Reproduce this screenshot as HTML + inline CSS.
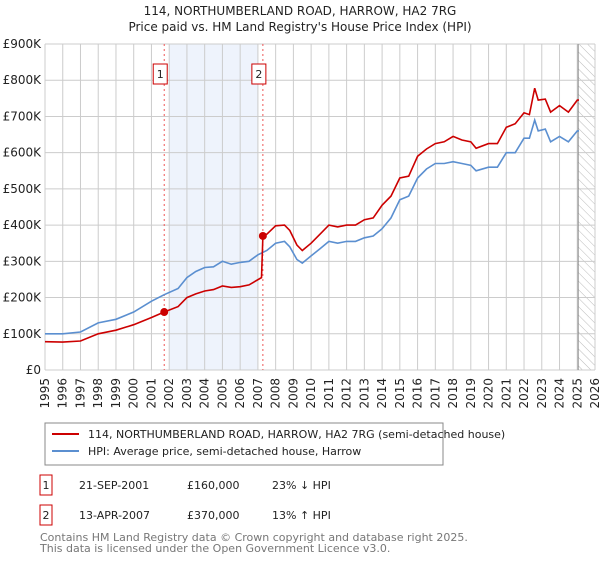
<!DOCTYPE html>
<html><head><meta charset="utf-8"><style>
body{margin:0;background:#fff;font-family:"Liberation Sans","DejaVu Sans",sans-serif;}
svg text{font-family:"DejaVu Sans","Liberation Sans",sans-serif;}
</style></head><body>
<svg id="c" width="600" height="560" xmlns="http://www.w3.org/2000/svg">
<defs><pattern id="hatch" width="6" height="6" patternUnits="userSpaceOnUse" patternTransform="rotate(-45)"><line x1="0" y1="0" x2="0" y2="6" stroke="#bbb" stroke-width="1"/></pattern></defs>
<text x="300" y="15" text-anchor="middle" font-size="12" fill="#222">114, NORTHUMBERLAND ROAD, HARROW, HA2 7RG</text>
<text x="300" y="31" text-anchor="middle" font-size="12" fill="#222">Price paid vs. HM Land Registry's House Price Index (HPI)</text>
<g id="plot"></g>
<rect x="45" y="423" width="398" height="42" fill="#fff" stroke="#888"/>
<line x1="52" y1="434" x2="79" y2="434" stroke="#cc0000" stroke-width="2"/>
<text x="88" y="438" font-size="11" fill="#222">114, NORTHUMBERLAND ROAD, HARROW, HA2 7RG (semi-detached house)</text>
<line x1="52" y1="451" x2="79" y2="451" stroke="#5b8fd0" stroke-width="2"/>
<text x="88" y="455" font-size="11" fill="#222">HPI: Average price, semi-detached house, Harrow</text>
<g font-size="11" fill="#222">
<rect x="40" y="475" width="12" height="20" fill="#fff" stroke="#cc0000"/><text x="46" y="489" text-anchor="middle">1</text>
<text x="79" y="489">21-SEP-2001</text><text x="187" y="489">£160,000</text><text x="272" y="489">23% ↓ HPI</text></g>
<g font-size="11" fill="#222">
<rect x="40" y="505" width="12" height="20" fill="#fff" stroke="#cc0000"/><text x="46" y="519" text-anchor="middle">2</text>
<text x="79" y="519">13-APR-2007</text><text x="187" y="519">£370,000</text><text x="272" y="519">13% ↑ HPI</text></g>
<text x="40" y="541" font-size="11" fill="#777">Contains HM Land Registry data © Crown copyright and database right 2025.</text>
<text x="40" y="552" font-size="11" fill="#777">This data is licensed under the Open Government Licence v3.0.</text>
</svg>
<script>
const yTicks=[0,100,200,300,400,500,600,700,800,900];
const yTickLabels=["£0","£100K","£200K","£300K","£400K","£500K","£600K","£700K","£800K","£900K"];
const xYears=[1995,1996,1997,1998,1999,2000,2001,2002,2003,2004,2005,2006,2007,2008,2009,2010,2011,2012,2013,2014,2015,2016,2017,2018,2019,2020,2021,2022,2023,2024,2025,2026];
const hpiT=[1995,1996,1997,1998,1999,2000,2001,2001.72,2002.5,2003,2003.5,2004,2004.5,2005,2005.5,2006,2006.5,2007,2007.5,2008,2008.5,2008.8,2009.2,2009.5,2010,2010.5,2011,2011.5,2012,2012.5,2013,2013.5,2014,2014.5,2015,2015.5,2016,2016.5,2017,2017.5,2018,2018.5,2019,2019.3,2020,2020.5,2021,2021.5,2022,2022.3,2022.6,2022.8,2023.2,2023.5,2024,2024.5,2025,2025.1];
const hpiV=[100,100,105,130,140,160,190,208,225,255,272,283,285,300,292,297,300,318,330,350,355,340,305,295,315,335,355,350,355,355,365,370,390,420,470,480,530,555,570,570,575,570,565,550,560,560,600,600,640,640,690,660,665,630,645,630,660,660];
const propT=[1995,1996,1997,1998,1999,2000,2001,2001.72,2002.5,2003,2003.5,2004,2004.5,2005,2005.5,2006,2006.5,2007.2,2007.28,2007.5,2008,2008.5,2008.8,2009.2,2009.5,2010,2010.5,2011,2011.5,2012,2012.5,2013,2013.5,2014,2014.5,2015,2015.5,2016,2016.5,2017,2017.5,2018,2018.5,2019,2019.3,2020,2020.5,2021,2021.5,2022,2022.3,2022.6,2022.8,2023.2,2023.5,2024,2024.5,2025,2025.1];
const propV=[78,77,80,100,110,125,145,160,175,200,210,218,222,232,228,230,235,255,370,375,398,400,385,345,330,350,375,400,395,400,400,415,420,455,480,530,535,590,610,625,630,645,635,630,612,625,625,670,680,710,705,778,745,748,712,730,712,745,745];
const saleT=[2001.72,2007.28];
const saleV=[160,370];
const saleLabels=["1","2"];
const L=45,R=595,T=44,B=370;
const X=t=>L+(t-1995)/(2026-1995)*(R-L);
const Y=v=>B-v/900*(B-T);
const NS="http://www.w3.org/2000/svg";
const g=document.getElementById('plot');
function mk(tag,attrs,parent){const e=document.createElementNS(NS,tag);for(const k in attrs)e.setAttribute(k,attrs[k]);(parent||g).appendChild(e);return e;}
let e;
e=mk('rect',{x:X(2002),y:T,width:X(2007)-X(2002),height:B-T,fill:'#eef3fc'});


e=mk('rect',{x:X(2025.05),y:T,width:R-X(2025.05),height:B-T,fill:'url(#hatch)'});


yTicks.forEach((v,i)=>{
 e=mk('line',{x1:L,x2:R,y1:Y(v),y2:Y(v),stroke:'#ccc'});
 
 
 e=mk('text',{x:L-4,y:Y(v)+4,'text-anchor':'end','font-size':12,fill:'#222'});e.textContent=yTickLabels[i];
 
 
});
xYears.forEach(yr=>{
 e=mk('line',{x1:X(yr),x2:X(yr),y1:T,y2:B,stroke:'#ccc'});
 
 
 e=mk('text',{x:0,y:0,'text-anchor':'end','font-size':12,fill:'#222',transform:`translate(${X(yr)+4},${B+8}) rotate(-90)`});e.textContent=yr;
 
 
});
e=mk('line',{x1:X(2025.05),x2:X(2025.05),y1:T,y2:B,stroke:'#888'});


saleT.forEach((t,i)=>{
 e=mk('line',{x1:X(t),x2:X(t),y1:T,y2:B,stroke:'#e55','stroke-dasharray':'2,3'});
 
 
 e=mk('rect',{x:X(t)-11,y:64,width:14,height:20,fill:'#fff',stroke:'#cc0000'});
 
 
 e=mk('text',{x:X(t)-4,y:78,'text-anchor':'middle','font-size':11,fill:'#222'});e.textContent=saleLabels[i];
 
 
});
const pts=(ts,vs)=>ts.map((t,i)=>X(t).toFixed(1)+','+Y(vs[i]).toFixed(1)).join(' ');
e=mk('polyline',{points:pts(hpiT,hpiV),fill:'none',stroke:'#5b8fd0','stroke-width':1.6});


e=mk('polyline',{points:pts(propT,propV),fill:'none',stroke:'#cc0000','stroke-width':1.6});


saleT.forEach((t,i)=>{
 e=mk('circle',{cx:X(t),cy:Y(saleV[i]),r:4,fill:'#cc0000'});
 
 
});
</script>
</body></html>
